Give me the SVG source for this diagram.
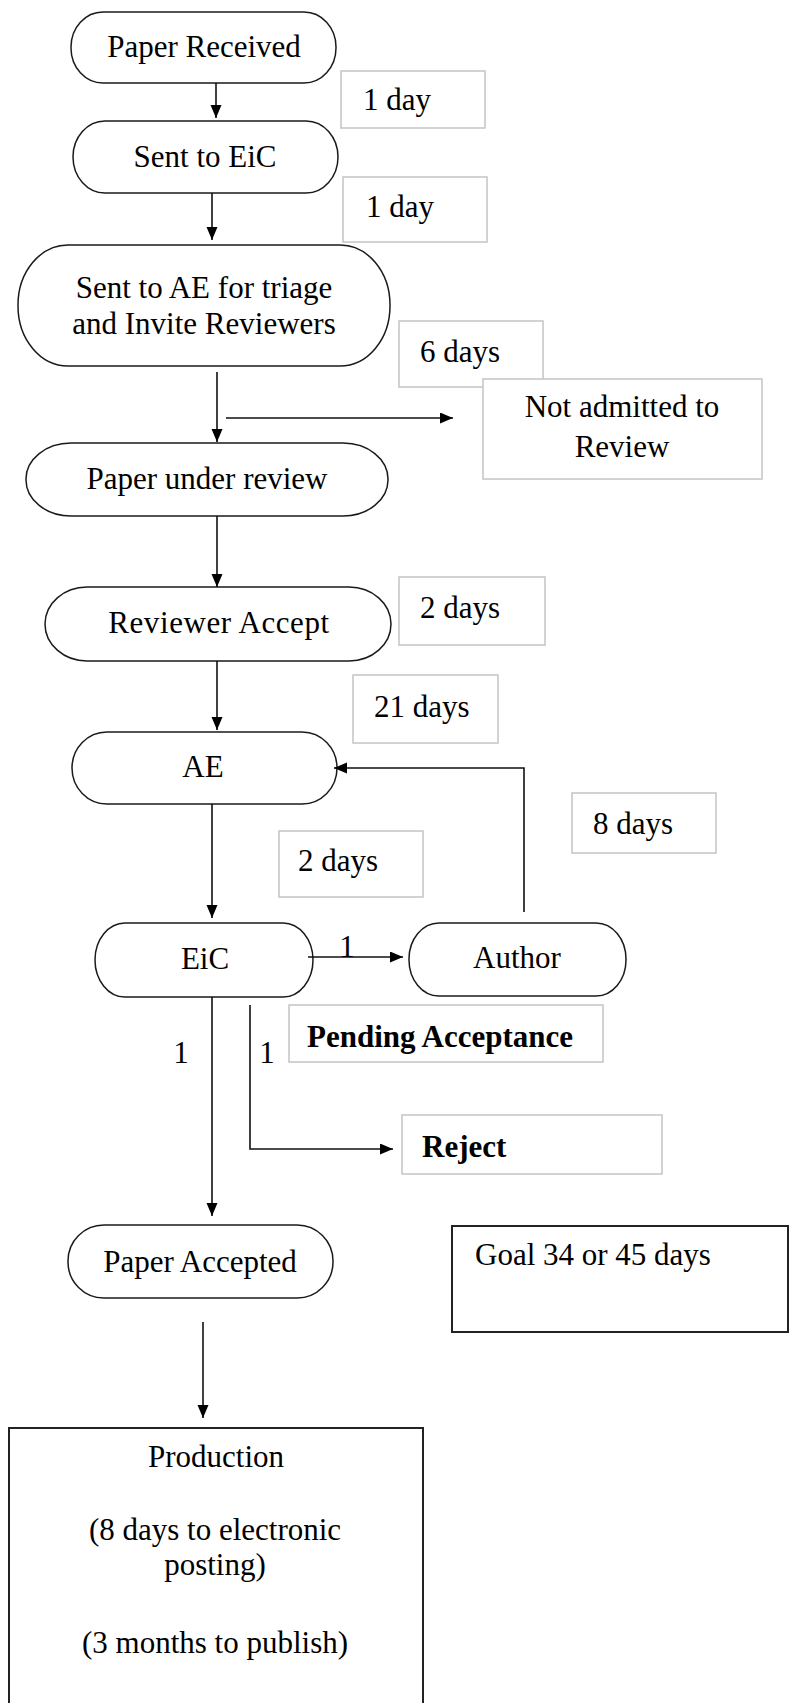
<svg xmlns="http://www.w3.org/2000/svg" width="790" height="1703" viewBox="0 0 790 1703" font-family="'Liberation Serif', 'DejaVu Serif', serif">
<style>
text{font-family:'Liberation Serif','DejaVu Serif',serif;font-size:31px;fill:#000}
.c{text-anchor:middle}
.b{font-weight:bold}
.ls{letter-spacing:0.6px}
.term{fill:#fff;stroke:#1a1a1a;stroke-width:1.5}
.lbl{fill:#fff;stroke:#c4c4c4;stroke-width:1.5}
.blk{fill:#fff;stroke:#222;stroke-width:2}
.con{fill:none;stroke:#111;stroke-width:1.6}
</style>
<defs>
<marker id="ah" markerWidth="13" markerHeight="12" refX="13" refY="5.5" orient="auto" markerUnits="userSpaceOnUse"><path d="M0,0 L13,5.5 L0,11 z" fill="#000"/></marker>
</defs>
<rect width="790" height="1703" fill="#fff"/>
<g id="n-received"><rect class="term" x="71" y="12" width="265" height="71" rx="32" ry="35"/><text class="c" x="204" y="57">Paper Received</text></g>
<g id="l-1day-a"><rect class="lbl" x="341" y="71" width="144" height="57"/><text x="363" y="110">1 day</text></g>
<g id="n-sent-eic"><rect class="term" x="73" y="121" width="265" height="72" rx="32" ry="36"/><text class="c" x="205" y="167">Sent to EiC</text></g>
<g id="l-1day-b"><rect class="lbl" x="343" y="177" width="144" height="65"/><text x="366" y="217">1 day</text></g>
<g id="n-sent-ae"><rect class="term" x="18" y="245" width="372" height="121" rx="50" ry="60"/><text class="c" x="204" y="298">Sent to AE for triage</text><text class="c" x="204" y="334">and Invite Reviewers</text></g>
<g id="l-6days"><rect class="lbl" x="399" y="321" width="144" height="66"/><text x="420" y="362">6 days</text></g>
<g id="n-not-admitted"><rect class="lbl" x="483" y="379" width="279" height="100"/><text class="c" x="622" y="417">Not admitted to</text><text class="c" x="622" y="457">Review</text></g>
<g id="n-under-review"><rect class="term" x="26" y="443" width="362" height="73" rx="45" ry="36"/><text class="c" x="207" y="489">Paper under review</text></g>
<g id="n-reviewer-accept"><rect class="term" x="45" y="587" width="346" height="74" rx="42" ry="37"/><text class="c ls" x="219" y="633">Reviewer Accept</text></g>
<g id="l-2days-a"><rect class="lbl" x="399" y="577" width="146" height="68"/><text x="420" y="618">2 days</text></g>
<g id="l-21days"><rect class="lbl" x="353" y="675" width="145" height="68"/><text x="374" y="717">21 days</text></g>
<g id="n-ae"><rect class="term" x="72" y="732" width="265" height="72" rx="35" ry="36"/><text class="c" x="203" y="777">AE</text></g>
<g id="l-8days"><rect class="lbl" x="572" y="793" width="144" height="60"/><text x="593" y="834">8 days</text></g>
<g id="l-2days-b"><rect class="lbl" x="279" y="831" width="144" height="66"/><text x="298" y="871">2 days</text></g>
<g id="n-eic"><rect class="term" x="95" y="923" width="218" height="74" rx="30" ry="37"/><text class="c" x="205" y="969">EiC</text></g>
<g id="n-author"><rect class="term" x="409" y="923" width="217" height="73" rx="30" ry="36"/><text class="c" x="517" y="968">Author</text></g>
<g id="n-pending"><rect class="lbl" x="289" y="1005" width="314" height="57"/><text class="b" x="307" y="1047">Pending Acceptance</text></g>
<g id="n-reject"><rect class="lbl" x="402" y="1115" width="260" height="59"/><text class="b" x="422" y="1157">Reject</text></g>
<g id="n-accepted"><rect class="term" x="68" y="1225" width="265" height="73" rx="36" ry="36"/><text class="c" x="200" y="1272">Paper Accepted</text></g>
<g id="n-goal"><rect class="blk" x="452" y="1226" width="336" height="106"/><text x="475" y="1265">Goal 34 or 45 days</text></g>
<g id="n-production"><rect class="blk" x="9" y="1428" width="414" height="300"/><text class="c" x="216" y="1467">Production</text><text class="c" x="215" y="1540">(8 days to electronic</text><text class="c" x="215" y="1575">posting)</text><text class="c" x="215" y="1653">(3 months to publish)</text></g>
<g id="connectors">
<path class="con" d="M216,83 V118" marker-end="url(#ah)"/>
<path class="con" d="M212,193 V240" marker-end="url(#ah)"/>
<path class="con" d="M217,372 V442" marker-end="url(#ah)"/>
<path class="con" d="M226,418 H453" marker-end="url(#ah)"/>
<path class="con" d="M217,516 V587" marker-end="url(#ah)"/>
<path class="con" d="M217,661 V730" marker-end="url(#ah)"/>
<path class="con" d="M212,804 V918" marker-end="url(#ah)"/>
<path class="con" d="M308,957 H403" marker-end="url(#ah)"/>
<path class="con" d="M524,912 V768 H334" marker-end="url(#ah)"/>
<path class="con" d="M212,997 V1216" marker-end="url(#ah)"/>
<path class="con" d="M250,1005 V1149 H393" marker-end="url(#ah)"/>
<path class="con" d="M203,1322 V1418" marker-end="url(#ah)"/>
<text x="347" y="957" class="c">1</text>
<text x="181" y="1063" class="c">1</text>
<text x="267" y="1063" class="c">1</text>
</g>
</svg>
